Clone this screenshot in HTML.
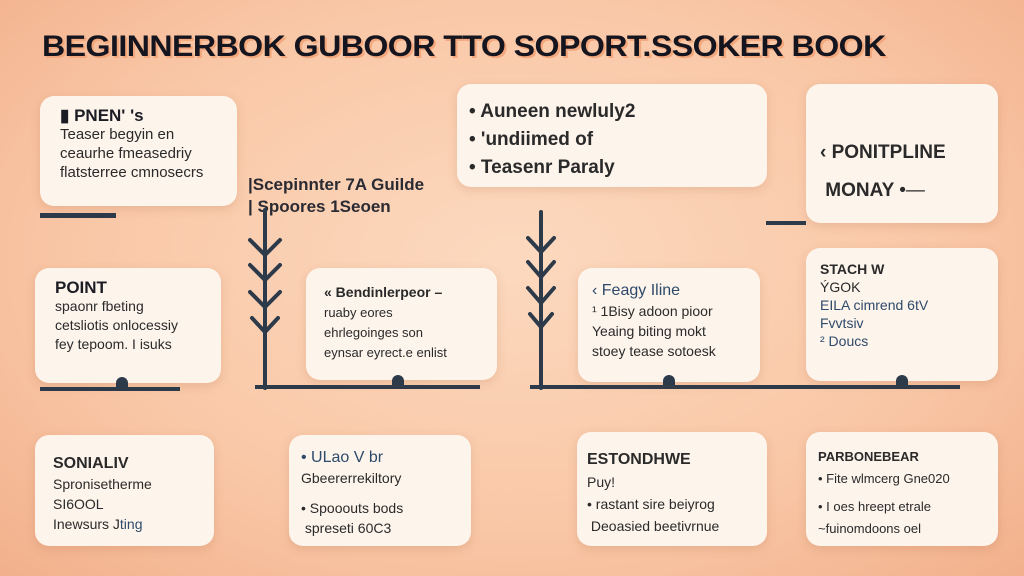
<!DOCTYPE html>
<html><head><meta charset="utf-8"><style>
body{margin:0;width:1024px;height:576px;overflow:hidden;font-family:"Liberation Sans",sans-serif;
background:radial-gradient(ellipse at 50% 45%,#fcd9bf 0%,#f9c7a6 60%,#f2b08c 100%);position:relative}
.c{position:absolute;background:#fdf4ec;border-radius:14px;box-shadow:0 3px 10px rgba(160,90,50,.18);color:#2a2a2a;font-size:15px;line-height:19px;box-sizing:border-box}
.b{font-weight:bold;font-size:17px;color:#1c1c24}
.bl{color:#2e4a6a}
.ln{position:absolute;background:#2c3a4a}
h1{position:absolute;left:42px;top:30px;margin:0;font-size:30px;letter-spacing:-0.5px;color:#15151f;font-weight:900;text-shadow:2px 2px 0 #f3a77c;white-space:nowrap;transform:scaleX(1.07);transform-origin:0 0}
</style></head><body>
<h1>BEGIINNERBOK GUBOOR TTO SOPORT.SSOKER BOOK</h1>

<div class="c" style="left:40px;top:96px;width:197px;height:110px;padding:10px 20px"><div class="b">▮ PNEN' 's</div>Teaser begyin en<br>ceaurhe fmeasedriy<br>flatsterree cmnosecrs</div>
<div class="ln" style="left:40px;top:213px;width:76px;height:5px"></div>

<div class="c" style="left:457px;top:84px;width:310px;height:103px;padding:14px 12px;font-size:19px;line-height:28px;font-weight:bold"> • Auneen newluly2<br>• 'undiimed of<br>•  Teasenr Paraly</div>

<div class="c" style="left:806px;top:84px;width:192px;height:139px;padding:50px 14px;font-size:19px;line-height:38px;font-weight:bold">‹ PONITPLINE<br>&nbsp;MONAY <span style="font-weight:normal">•—</span></div>
<div class="ln" style="left:766px;top:221px;width:40px;height:4px"></div>

<div style="position:absolute;left:248px;top:174px;font-size:17px;line-height:22px;font-weight:bold;color:#2a2a33">|Scepinnter 7A Guilde<br>| Spoores 1Seoen</div>

<div class="c" style="left:35px;top:268px;width:186px;height:115px;padding:10px 20px;font-size:14px"><div class="b">POINT</div>spaonr fbeting<br>cetsliotis onlocessiy<br>fey tepoom. I isuks</div>
<div class="ln" style="left:40px;top:387px;width:140px;height:4px"></div>
<div class="ln" style="left:116px;top:377px;width:12px;height:10px;border-radius:6px 6px 0 0"></div>

<svg style="position:absolute;left:0;top:0" width="1024" height="576">
<g stroke="#2c3a4a" stroke-width="4" fill="none" stroke-linecap="round">
<line x1="265" y1="210" x2="265" y2="388"/>
<polyline points="250,240 265,255 280,240"/><polyline points="250,265 265,280 280,265"/><polyline points="250,292 265,307 280,292"/><polyline points="252,318 265,332 278,318"/>
<line x1="541" y1="212" x2="541" y2="388"/>
<polyline points="528,238 541,252 554,238"/><polyline points="528,262 541,277 554,262"/><polyline points="528,288 541,303 554,288"/><polyline points="530,314 541,327 552,314"/>
</g></svg>
<div class="ln" style="left:255px;top:385px;width:225px;height:4px"></div>
<div class="ln" style="left:530px;top:385px;width:430px;height:4px"></div>

<div class="c" style="left:306px;top:268px;width:191px;height:112px;padding:14px 18px;font-size:13px;line-height:20px"><b style="font-size:14px">« Bendinlerpeor –</b><br>ruaby eores<br>ehrlegoinges son<br>eynsar eyrect.e enlist</div>
<div class="ln" style="left:392px;top:375px;width:12px;height:10px;border-radius:6px 6px 0 0"></div>

<div class="c" style="left:578px;top:268px;width:182px;height:114px;padding:12px 14px;font-size:14px;line-height:20px"><span class="bl" style="font-size:16px">‹ Feagy Iline</span><br>¹ 1Bisy adoon pioor<br>Yeaing biting mokt<br>stoey tease sotoesk</div>
<div class="ln" style="left:663px;top:375px;width:12px;height:10px;border-radius:6px 6px 0 0"></div>

<div class="c" style="left:806px;top:248px;width:192px;height:133px;padding:12px 14px;font-size:14px;line-height:18px"><b>STACH W</b><br>ÝGOK<br><span class="bl">EILA cimrend 6tV<br>Fvvtsiv<br>² Doucs</span></div>
<div class="ln" style="left:896px;top:375px;width:12px;height:10px;border-radius:6px 6px 0 0"></div>

<div class="c" style="left:35px;top:435px;width:179px;height:111px;padding:18px 18px;font-size:14px;line-height:20px"><b style="font-size:16px">SONIALIV</b><br>Spronisetherme<br>SI6OOL<br>Inewsurs J<span class="bl">ting</span></div>

<div class="c" style="left:289px;top:435px;width:182px;height:111px;padding:12px 12px;font-size:14px;line-height:20px"><span class="bl" style="font-size:16px">• ULao V br</span><br>Gbeererrekiltory<br><div style="height:10px"></div>• Spooouts bods<br>&nbsp;spreseti 60C3</div>

<div class="c" style="left:577px;top:432px;width:190px;height:114px;padding:16px 10px;font-size:14px;line-height:22px"><b style="font-size:16px">ESTONDHWE</b><br>Puy!<br>• rastant sire beiyrog<br>&nbsp;Deoasied beetivrnue</div>

<div class="c" style="left:806px;top:432px;width:192px;height:114px;padding:14px 12px;font-size:13px;line-height:22px"><b>PARBONEBEAR</b><br>• Fite wlmcerg Gne020<br><div style="height:6px"></div>• I oes hreept etrale<br>~fuinomdoons oel</div>
</body></html>
